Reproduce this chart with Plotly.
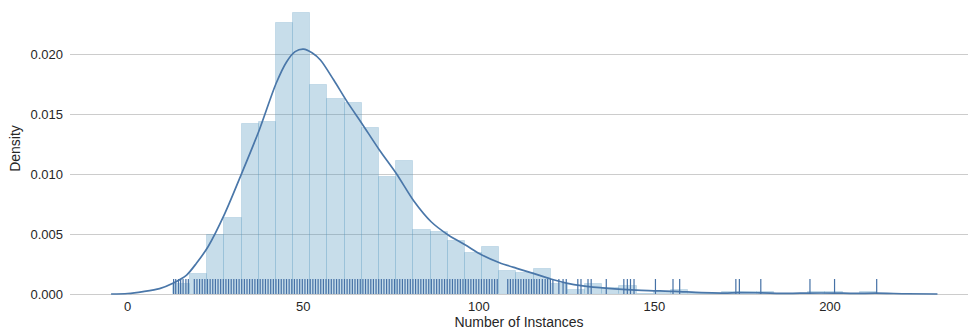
import plotly.graph_objects as go

# ---------------- data ----------------
bin_start = 12.9
bin_width = 4.89
bin_density = [
    0.00083, 0.00167, 0.0049, 0.0063, 0.01417, 0.01433, 0.02258, 0.02342,
    0.01742, 0.01625, 0.01592, 0.01383, 0.00975, 0.0111, 0.00533, 0.00514,
    0.00442, 0.00342, 0.00394, 0.00192, 0.00175, 0.00208, 0.00083, 0.00033,
    0.00081, 0.00047, 0.00067, 0.0, 0.0002, 0.00033, 0.0, 0.0,
    0.0002, 0.0002, 0.0002, 0.0, 0.0, 0.0002, 0.0002, 0.0, 0.0002,
]

kde_x = [-4.7, 0.0, 4.4, 9.1, 12.9, 16.8, 19.6, 22.9, 27.7, 32.7, 37.5, 42.3,
         45.3, 47.7, 50.1, 52.5, 54.9, 58.7, 62.5, 66.8, 71.7, 76.6, 81.5,
         86.5, 91.3, 96.2, 100.9, 105.9, 110.8, 115.5, 120.5, 125.3, 129.1,
         136.8, 146.3, 155.8, 163.4, 170.0, 174.0, 180.0, 188.0, 194.0, 201.0,
         207.0, 213.0, 222.0, 230.6]
kde_y = [0.0, 0.00004, 0.0002, 0.00045, 0.0009, 0.00158, 0.00256, 0.00394,
         0.00672, 0.0102, 0.01367, 0.01756, 0.01936, 0.0202, 0.0204, 0.0201,
         0.0195, 0.01783, 0.01603, 0.01417, 0.012, 0.01, 0.00775, 0.006,
         0.00492, 0.00408, 0.00325, 0.00261, 0.00214, 0.00172, 0.00125,
         0.00089, 0.0007, 0.00047, 0.00031, 0.00022, 0.00011, 0.00008,
         0.00012, 0.0001, 0.00005, 0.00008, 0.00008, 0.00005, 0.00007,
         0.00002, 0.0]

rug_values = [
    13.1, 13.7, 14.5, 15.1, 15.8, 16.6, 17.3,
    19.0, 19.75, 20.5, 21.25, 22.0, 22.75, 23.5, 24.25, 25.0, 25.75, 26.5,
    27.25, 28.0, 28.75, 29.5, 30.25, 31.0, 31.75, 32.5, 33.25, 34.0, 34.75,
    35.5, 36.25, 37.0, 37.75, 38.5, 39.25, 40.0, 40.75, 41.5, 42.25, 43.0,
    43.75, 44.5, 45.25, 46.0, 46.75, 47.5, 48.25, 49.0, 49.75, 50.5, 51.25,
    52.0, 52.75, 53.5, 54.25, 55.0, 55.75, 56.5, 57.25, 58.0, 58.75, 59.5,
    60.25, 61.0, 61.75, 62.5, 63.25, 64.0, 64.75, 65.5, 66.25, 67.0, 67.75,
    68.5, 69.25, 70.0, 70.75, 71.5, 72.25, 73.0, 73.75, 74.5, 75.25, 76.0,
    76.75, 77.5, 78.25, 79.0, 79.75, 80.5, 81.25, 82.0, 82.75, 83.5, 84.25,
    85.0, 85.75, 86.5, 87.25, 88.0, 88.75, 89.5, 90.25, 91.0, 91.75, 92.5,
    93.25, 94.0, 94.75, 95.5, 96.25, 97.0, 97.75, 98.5, 99.25, 100.0, 100.75,
    101.5, 102.25, 103.0, 103.75, 104.5, 105.25,
    108.25, 109.0, 109.75, 110.5, 111.25, 112.0, 112.75, 113.5, 114.25,
    115.0, 115.75, 116.5, 117.25,
    118.1, 118.9, 119.6, 120.4, 121.1, 122.8, 124.0, 124.9, 128.2, 129.1,
    131.1, 132.0, 136.3, 141.3, 142.3, 143.2, 144.2, 150.3, 155.3, 157.2,
    173.2, 174.2, 180.3, 194.3, 201.3, 213.3,
]

x_tick_values = [0, 50, 100, 150, 200]
x_tick_labels = ["0", "50", "100", "150", "200"]
y_tick_values = [0.0, 0.005, 0.010, 0.015, 0.020]
y_tick_labels = ["0.000", "0.005", "0.010", "0.015", "0.020"]

x_title = "Number of Instances"
y_title = "Density"

# ---------------- figure ----------------
bin_centers = [bin_start + bin_width * (i + 0.5) for i in range(len(bin_density))]
rug_height = 0.00125

rug_x, rug_y = [], []
for v in rug_values:
    rug_x += [v, v, None]
    rug_y += [0.0, rug_height, None]

FONT = "Liberation Sans, Arial, sans-serif"
TEXT = "#262626"

fig = go.Figure()
fig.add_trace(go.Bar(
    x=bin_centers, y=bin_density, width=bin_width,
    marker=dict(color="rgba(80,150,190,0.32)",
                line=dict(color="rgba(80,150,190,0.22)", width=1)),
    hoverinfo="skip",
))
fig.add_trace(go.Scatter(
    x=kde_x, y=kde_y, mode="lines",
    line=dict(color="#4a77a9", width=1.7, shape="spline", smoothing=0.8),
    hoverinfo="skip",
))
fig.add_trace(go.Scatter(
    x=rug_x, y=rug_y, mode="lines",
    line=dict(color="#4571a6", width=1.2),
    hoverinfo="skip",
))

fig.update_layout(
    width=968, height=336,
    margin=dict(l=70, r=0, t=0, b=39),
    paper_bgcolor="white", plot_bgcolor="white",
    showlegend=False, bargap=0,
    font=dict(family=FONT, size=13, color=TEXT),
)
fig.update_xaxes(
    range=[-16.4, 239.3], automargin=False,
    tickmode="array", tickvals=x_tick_values, ticktext=x_tick_labels,
    showgrid=False, zeroline=False, showline=False, ticks="",
    tickfont=dict(size=13, color=TEXT),
    title=dict(text=x_title, font=dict(size=14, color=TEXT), standoff=2),
)
fig.update_yaxes(
    range=[-0.00025, 0.0245], automargin=False,
    tickmode="array", tickvals=y_tick_values, ticktext=y_tick_labels,
    showgrid=True, gridcolor="#cccccc", gridwidth=1,
    zeroline=False, showline=False, ticks="",
    tickfont=dict(size=13, color=TEXT),
    ticklabelstandoff=6,
    title=dict(text=y_title, font=dict(size=14, color=TEXT), standoff=6),
)

fig.write_html(
    "out.html",
    config={"displayModeBar": False},
    post_script="document.body.style.margin='0';document.body.style.overflow='hidden';",
)
